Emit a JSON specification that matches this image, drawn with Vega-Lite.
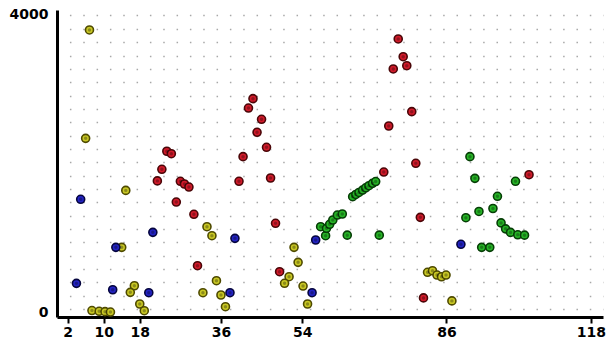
{
  "$schema": "https://vega.github.io/schema/vega-lite/v6.json",
  "width": 546,
  "height": 307,
  "autosize": "none",
  "padding": {"left": 57, "top": 10, "right": 3, "bottom": 25},
  "background": "white",
  "config": {"view": {"stroke": null}},
  "data": {
    "values": [
      {"x": 6.85, "y": 3798, "s": "y"}, {"x": 6.0, "y": 2339, "s": "y"}, {"x": 14.9, "y": 1638, "s": "y"},
      {"x": 14.0, "y": 871, "s": "y"}, {"x": 16.8, "y": 354, "s": "y"}, {"x": 15.9, "y": 265, "s": "y"},
      {"x": 18.0, "y": 108, "s": "y"}, {"x": 19.0, "y": 18, "s": "y"}, {"x": 7.4, "y": 20, "s": "y"},
      {"x": 9.0, "y": 10, "s": "y"}, {"x": 10.3, "y": 5, "s": "y"}, {"x": 11.5, "y": 0, "s": "y"},
      {"x": 32.0, "y": 260, "s": "y"}, {"x": 32.9, "y": 1149, "s": "y"}, {"x": 34.0, "y": 1028, "s": "y"},
      {"x": 35.0, "y": 422, "s": "y"}, {"x": 36.0, "y": 229, "s": "y"}, {"x": 37.0, "y": 72, "s": "y"},
      {"x": 51.1, "y": 476, "s": "y"}, {"x": 50.1, "y": 387, "s": "y"}, {"x": 52.2, "y": 871, "s": "y"},
      {"x": 53.1, "y": 669, "s": "y"}, {"x": 54.2, "y": 350, "s": "y"}, {"x": 55.2, "y": 108, "s": "y"},
      {"x": 81.8, "y": 535, "s": "y"}, {"x": 82.9, "y": 556, "s": "y"}, {"x": 83.9, "y": 498, "s": "y"},
      {"x": 84.9, "y": 475, "s": "y"}, {"x": 85.9, "y": 498, "s": "y"}, {"x": 87.2, "y": 150, "s": "y"},
      {"x": 4.9, "y": 1518, "s": "b"}, {"x": 20.9, "y": 1073, "s": "b"}, {"x": 12.7, "y": 871, "s": "b"},
      {"x": 3.96, "y": 386, "s": "b"}, {"x": 12.0, "y": 300, "s": "b"}, {"x": 20.0, "y": 260, "s": "b"},
      {"x": 39.1, "y": 992, "s": "b"}, {"x": 38.0, "y": 260, "s": "b"}, {"x": 56.2, "y": 260, "s": "b"},
      {"x": 57.0, "y": 970, "s": "b"}, {"x": 89.2, "y": 912, "s": "b"},
      {"x": 24.0, "y": 2165, "s": "r"}, {"x": 25.0, "y": 2132, "s": "r"}, {"x": 22.9, "y": 1922, "s": "r"},
      {"x": 21.9, "y": 1766, "s": "r"}, {"x": 27.0, "y": 1760, "s": "r"}, {"x": 27.9, "y": 1724, "s": "r"},
      {"x": 28.9, "y": 1683, "s": "r"}, {"x": 26.1, "y": 1481, "s": "r"}, {"x": 30.0, "y": 1316, "s": "r"},
      {"x": 30.8, "y": 624, "s": "r"}, {"x": 43.1, "y": 2873, "s": "r"}, {"x": 42.1, "y": 2747, "s": "r"},
      {"x": 45.0, "y": 2595, "s": "r"}, {"x": 44.0, "y": 2420, "s": "r"}, {"x": 46.1, "y": 2218, "s": "r"},
      {"x": 40.9, "y": 2092, "s": "r"}, {"x": 40.0, "y": 1760, "s": "r"}, {"x": 47.0, "y": 1805, "s": "r"},
      {"x": 48.1, "y": 1195, "s": "r"}, {"x": 49.0, "y": 543, "s": "r"}, {"x": 72.1, "y": 1885, "s": "r"},
      {"x": 73.2, "y": 2505, "s": "r"}, {"x": 74.2, "y": 3273, "s": "r"}, {"x": 75.3, "y": 3677, "s": "r"},
      {"x": 76.4, "y": 3438, "s": "r"}, {"x": 77.2, "y": 3317, "s": "r"}, {"x": 78.3, "y": 2698, "s": "r"},
      {"x": 79.2, "y": 2003, "s": "r"}, {"x": 80.2, "y": 1275, "s": "r"}, {"x": 80.9, "y": 190, "s": "r"},
      {"x": 104.3, "y": 1849, "s": "r"},
      {"x": 58.1, "y": 1149, "s": "g"}, {"x": 59.2, "y": 1028, "s": "g"}, {"x": 59.4, "y": 1127, "s": "g"},
      {"x": 60.1, "y": 1181, "s": "g"}, {"x": 60.8, "y": 1239, "s": "g"}, {"x": 61.8, "y": 1306, "s": "g"},
      {"x": 62.9, "y": 1320, "s": "g"}, {"x": 64.0, "y": 1035, "s": "g"}, {"x": 71.1, "y": 1035, "s": "g"},
      {"x": 65.2, "y": 1553, "s": "g"}, {"x": 65.9, "y": 1583, "s": "g"}, {"x": 66.6, "y": 1610, "s": "g"},
      {"x": 67.4, "y": 1642, "s": "g"}, {"x": 68.1, "y": 1673, "s": "g"}, {"x": 68.8, "y": 1701, "s": "g"},
      {"x": 69.6, "y": 1733, "s": "g"}, {"x": 70.3, "y": 1757, "s": "g"}, {"x": 91.2, "y": 2092, "s": "g"},
      {"x": 92.3, "y": 1800, "s": "g"}, {"x": 90.3, "y": 1270, "s": "g"}, {"x": 93.2, "y": 1354, "s": "g"},
      {"x": 96.3, "y": 1394, "s": "g"}, {"x": 97.3, "y": 1558, "s": "g"}, {"x": 101.3, "y": 1760, "s": "g"},
      {"x": 93.8, "y": 871, "s": "g"}, {"x": 95.6, "y": 871, "s": "g"}, {"x": 98.1, "y": 1200, "s": "g"},
      {"x": 99.1, "y": 1120, "s": "g"}, {"x": 100.2, "y": 1072, "s": "g"}, {"x": 101.8, "y": 1040, "s": "g"},
      {"x": 103.3, "y": 1035, "s": "g"}
    ]
  },
  "encoding": {
    "x": {
      "field": "x", "type": "quantitative",
      "scale": {"domain": [-0.35, 120.7], "nice": false, "zero": false},
      "axis": {
        "orient": "bottom", "title": null, "grid": false,
        "values": [2, 10, 18, 36, 54, 86, 118],
        "domainColor": "black", "domainWidth": 3,
        "tickColor": "black", "tickWidth": 2, "tickSize": 6,
        "labelFont": "DejaVu Sans", "labelFontWeight": "bold", "labelFontSize": 14,
        "labelColor": "black", "labelPadding": 2, "labelFlush": false, "labelOverlap": false
      }
    },
    "y": {
      "field": "y", "type": "quantitative",
      "scale": {"domain": [-67, 4067], "nice": false, "zero": false},
      "axis": {
        "orient": "left", "title": null, "grid": true, "ticks": false, "format": "d",
        "values": [0, 40, 220, 400, 579, 759, 938, 1118, 1297, 1477, 1656, 1836, 2015, 2195, 2375, 2554, 2734, 2913, 3093, 3272, 3452, 3632, 3811, 4000],
        "labelExpr": "datum.value == 0 || datum.value == 4000 ? datum.label : ''",
        "gridColor": "#a8a8a8", "gridWidth": 1.5, "gridDash": [1.5, 11.83], "gridDashOffset": 0.9,
        "gridOpacity": {"condition": {"test": "datum.value == 0", "value": 0}, "value": 1},
        "domainColor": "black", "domainWidth": 3,
        "labelFont": "DejaVu Sans", "labelFontWeight": "bold", "labelFontSize": 14,
        "labelColor": "black", "labelPadding": 9, "labelFlush": false, "labelOverlap": false
      }
    }
  },
  "layer": [
    {
      "mark": {"type": "point", "filled": true, "size": 64, "strokeWidth": 1.6, "opacity": 1, "strokeOpacity": 1},
      "encoding": {
        "fill": {"field": "s", "type": "nominal", "legend": null,
          "scale": {"domain": ["r", "g", "y", "b"], "range": ["#d21a2a", "#26b526", "#c9c824", "#2323c4"]}},
        "stroke": {"field": "s", "type": "nominal", "legend": null,
          "scale": {"domain": ["r", "g", "y", "b"], "range": ["#4a0608", "#063e06", "#4e4a00", "#05053e"]}}
      }
    },
    {
      "mark": {"type": "circle", "size": 12, "color": "black", "opacity": 0.3}
    }
  ]
}
